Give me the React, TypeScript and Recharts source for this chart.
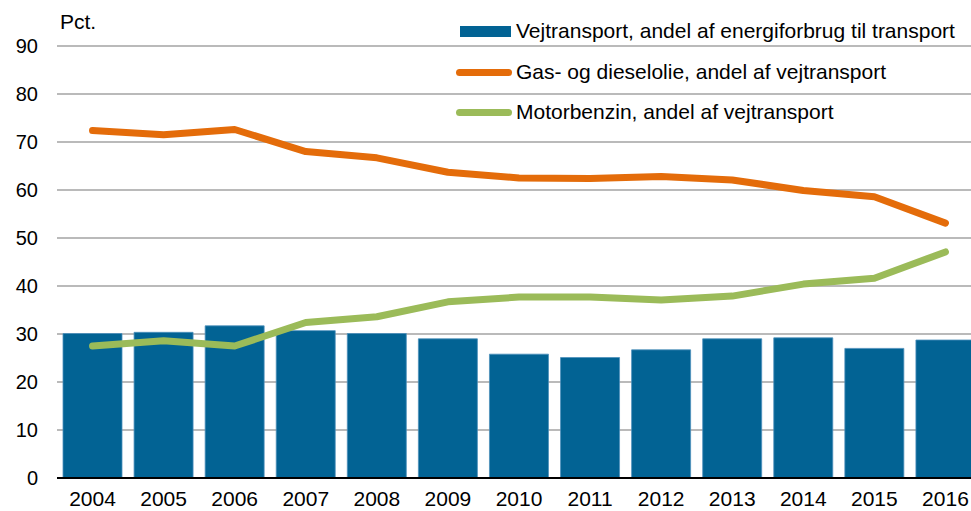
import { ComposedChart, Bar, Line, XAxis, YAxis, CartesianGrid } from 'recharts';

const years = ['2004', '2005', '2006', '2007', '2008', '2009', '2010', '2011', '2012', '2013', '2014', '2015', '2016'];
const vejtransport = [30.1, 30.35, 31.7, 30.7, 30.1, 29.0, 25.8, 25.1, 26.7, 29.0, 29.2, 27.0, 28.75];
const gasDiesel = [72.4, 71.5, 72.6, 68.0, 66.7, 63.7, 62.5, 62.4, 62.8, 62.1, 59.9, 58.6, 53.1];
const motorbenzin = [27.5, 28.6, 27.5, 32.4, 33.6, 36.7, 37.7, 37.7, 37.1, 37.9, 40.4, 41.6, 47.1];
const yTicks = [0, 10, 20, 30, 40, 50, 60, 70, 80, 90];

const seriesNames = [
  'Vejtransport, andel af energiforbrug til transport',
  'Gas- og dieselolie, andel af vejtransport',
  'Motorbenzin, andel af vejtransport',
];

const BLUE = '#026394';
const ORANGE = '#E46C0A';
const GREEN = '#9BBB59';
const FONT = '"Liberation Sans", Arial, sans-serif';

const data = years.map((year, i) => ({
  year,
  vej: vejtransport[i],
  gas: gasDiesel[i],
  benzin: motorbenzin[i],
}));

const LegendRow = (props: { kind: 'bar' | 'line'; color: string; label: string; top: number }) => (
  <div
    style={{
      position: 'absolute',
      left: 456,
      top: props.top,
      height: 22,
      display: 'flex',
      alignItems: 'center',
      whiteSpace: 'nowrap',
    }}
  >
    {props.kind === 'bar' ? (
      <div style={{ width: 51, height: 11, marginLeft: 4, marginRight: 5, background: props.color }} />
    ) : (
      <div style={{ width: 56, height: 7, marginRight: 4, borderRadius: 4, background: props.color }} />
    )}
    <span style={{ fontSize: 21, color: '#000' }}>{props.label}</span>
  </div>
);

export default function App() {
  return (
    <div
      style={{
        position: 'absolute',
        left: 0,
        top: 0,
        width: 971,
        height: 511,
        overflow: 'hidden',
        background: '#fff',
        fontFamily: FONT,
      }}
    >
      <ComposedChart
        width={985}
        height={511}
        data={data}
        margin={{ top: 46, right: 4, bottom: 0, left: 0 }}
        barCategoryGap={6}
      >
        <CartesianGrid vertical={false} stroke="#a3a3a3" strokeWidth={1.6} />
        <XAxis
          dataKey="year"
          height={33}
          tickLine={false}
          tickSize={0}
          tickMargin={13}
          axisLine={{ stroke: '#000', strokeWidth: 2 }}
          tick={{ fill: '#000', fontSize: 21, fontFamily: FONT }}
          interval={0}
        />
        <YAxis
          width={57}
          domain={[0, 90]}
          ticks={yTicks}
          axisLine={false}
          tickLine={false}
          tickSize={0}
          tickMargin={19}
          tick={{ fill: '#000', fontSize: 20, fontFamily: FONT }}
        />
        <Bar dataKey="vej" fill={BLUE} stroke="#4d8fbb" strokeWidth={0.8} isAnimationActive={false} />
        <Line
          dataKey="gas"
          stroke={ORANGE}
          strokeWidth={7}
          strokeLinecap="round"
          strokeLinejoin="round"
          dot={false}
          activeDot={false}
          type="linear"
          isAnimationActive={false}
        />
        <Line
          dataKey="benzin"
          stroke={GREEN}
          strokeWidth={7}
          strokeLinecap="round"
          strokeLinejoin="round"
          dot={false}
          activeDot={false}
          type="linear"
          isAnimationActive={false}
        />
      </ComposedChart>
      <span style={{ position: 'absolute', left: 60, top: 10, fontSize: 21, color: '#000' }}>Pct.</span>
      <LegendRow kind="bar" color={BLUE} label={seriesNames[0]} top={20} />
      <LegendRow kind="line" color={ORANGE} label={seriesNames[1]} top={61} />
      <LegendRow kind="line" color={GREEN} label={seriesNames[2]} top={101} />
    </div>
  );
}
